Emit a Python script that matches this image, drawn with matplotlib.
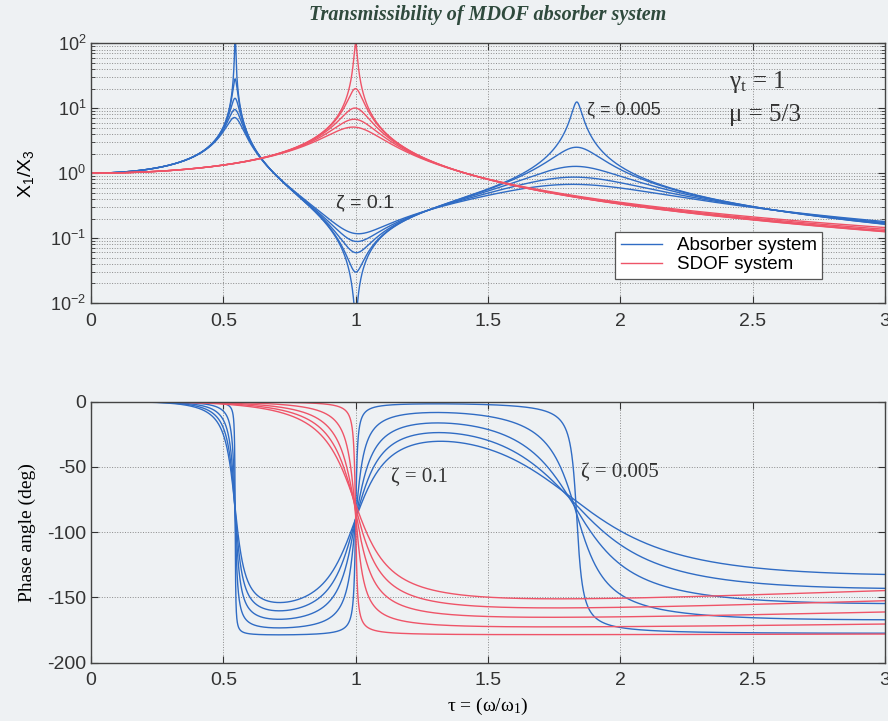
import numpy as np
import matplotlib
matplotlib.use('Agg')
import matplotlib.pyplot as plt
from matplotlib.ticker import LogLocator, NullFormatter


# system parameters
zeta_values = [0.005, 0.025, 0.05, 0.075, 0.1]
gamma_t = 1.0
mu = 5.0 / 3.0
tau_max = 3.0

x_ticks = [0, 0.5, 1, 1.5, 2, 2.5, 3]
x_tick_labels = ['0', '0.5', '1', '1.5', '2', '2.5', '3']
phase_ticks = [-200, -150, -100, -50, 0]

blue = '#306cc4'
red = '#ee5468'
bg = '#eef1f3'
grid_col = '#8a8a8a'

plt.rcParams['font.family'] = 'Liberation Sans'
plt.rcParams['mathtext.default'] = 'regular'
plt.rcParams['axes.unicode_minus'] = False

tau = np.linspace(0, tau_max, 30001)


def absorber_tr(tau, zeta):
    # primary mass on base spring/damper with a tuned absorber mass on top
    a = gamma_t**2 + 2j * zeta * gamma_t * tau
    num = 1 + 2j * zeta * tau
    den = 1 + 2j * zeta * tau - tau**2 - mu * a * tau**2 / (a - tau**2)
    return num / den


def sdof_tr(tau, zeta):
    return (1 + 2j * zeta * tau) / (1 - tau**2 + 2j * zeta * tau)


def phase_deg(h):
    return np.degrees(np.unwrap(np.angle(h)))


fig = plt.figure(figsize=(8.88, 7.21), dpi=100, facecolor=bg)
ax1 = fig.add_axes([0.1025, 0.5797, 0.894, 0.3603], facecolor=bg)
ax2 = fig.add_axes([0.1025, 0.0809, 0.894, 0.3620], facecolor=bg)

for i, z in enumerate(zeta_values):
    hb = absorber_tr(tau, z)
    ax1.semilogy(tau, np.abs(hb), color=blue, lw=1.0,
                 label='Absorber system' if i == 0 else None)
    ax2.plot(tau, phase_deg(hb), color=blue, lw=1.0)
for i, z in enumerate(zeta_values):
    hs = sdof_tr(tau, z)
    ax1.semilogy(tau, np.abs(hs), color=red, lw=1.0,
                 label='SDOF system' if i == 0 else None)
    ax2.plot(tau, phase_deg(hs), color=red, lw=1.0)

# magnitude axes
ax1.set_xlim(0, tau_max)
ax1.set_ylim(1e-2, 1e2)
ax1.yaxis.set_major_locator(LogLocator(base=10, numticks=10))
ax1.yaxis.set_minor_locator(LogLocator(base=10, subs=np.arange(2, 10), numticks=10))
ax1.yaxis.set_minor_formatter(NullFormatter())
ax1.grid(True, which='major', axis='x', ls=':', color=grid_col, lw=0.7)
ax1.grid(True, which='both', axis='y', ls=':', color=grid_col, lw=0.7)
ax1.set_ylabel('X$_{\\mathregular{1}}$/X$_{\\mathregular{3}}$', fontsize=14, labelpad=10)
ax1.set_title('Transmissibility of MDOF absorber system', family='Liberation Serif',
              fontsize=14.5, style='italic', weight='bold', color='#2f4a3d', pad=17)

ax1.text(0.925, 0.35, 'ζ = 0.1', fontsize=14, color='#333333', va='center')
ax1.text(1.875, 9.4, 'ζ = 0.005', fontsize=13, color='#333333', va='center')
ax1.text(2.41, 25, 'γ$_{\\mathregular{t}}$ = 1', family='Liberation Serif',
         fontsize=18, color='#333333', va='center')
ax1.text(2.41, 7.9, 'μ = 5/3', family='Liberation Serif',
         fontsize=18, color='#333333', va='center')

leg = ax1.legend(loc='upper left', bbox_to_anchor=(0.66, 0.275), fontsize=13.5,
                 handlelength=2.2, frameon=True, fancybox=False, borderpad=0.3,
                 labelspacing=0.1, handletextpad=0.8, borderaxespad=0)
leg.get_frame().set_edgecolor('#555555')
leg.get_frame().set_facecolor('white')
leg.get_frame().set_alpha(1)
leg.get_frame().set_linewidth(0.9)

# phase axes
ax2.set_xlim(0, tau_max)
ax2.set_ylim(-200, 0)
ax2.set_yticks(phase_ticks)
ax2.grid(True, ls=':', color=grid_col, lw=0.7)
ax2.set_ylabel('Phase angle (deg)', family='Liberation Serif', fontsize=14, labelpad=8)
ax2.set_xlabel('τ = (ω/ω$_{\\mathregular{1}}$)', family='Liberation Serif', fontsize=14,
               labelpad=5)
ax2.text(1.135, -58, 'ζ = 0.1', family='Liberation Serif', fontsize=15,
         color='#333333', va='center')
ax2.text(1.85, -54, 'ζ = 0.005', family='Liberation Serif', fontsize=15,
         color='#333333', va='center')

for ax in (ax1, ax2):
    ax.set_xticks(x_ticks)
    ax.set_xticklabels(x_tick_labels)
    ax.tick_params(which='both', direction='in', top=True, right=True,
                   labelsize=14, colors='#333333')
    ax.tick_params(which='major', length=5)
    ax.tick_params(which='minor', length=3)
    ax.tick_params(axis='x', pad=7)
    for sp in ax.spines.values():
        sp.set_color('#444444')
        sp.set_linewidth(1.0)
ax1.tick_params(axis='y', labelsize=13)

fig.savefig('out.png', dpi=100, facecolor=bg)
